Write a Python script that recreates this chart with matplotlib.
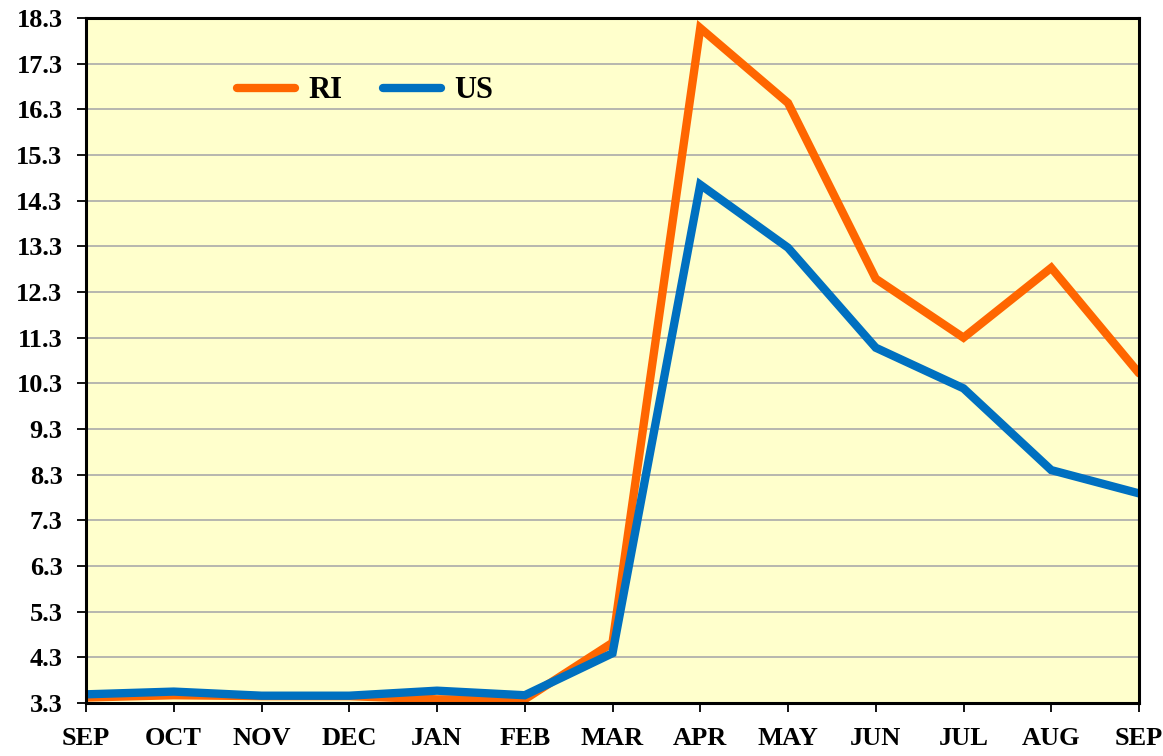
import matplotlib
matplotlib.use('Agg')
import matplotlib.pyplot as plt

# данные
months = ['SEP', 'OCT', 'NOV', 'DEC', 'JAN', 'FEB', 'MAR',
          'APR', 'MAY', 'JUN', 'JUL', 'AUG', 'SEP']
ri = [3.42, 3.47, 3.45, 3.45, 3.38, 3.38, 4.62, 18.08, 16.44, 12.59, 11.3, 12.83, 10.52]
us = [3.49, 3.55, 3.46, 3.46, 3.57, 3.47, 4.39, 14.65, 13.27, 11.08, 10.19, 8.4, 7.89]
y_ticks = [3.3 + i for i in range(16)]


def plot_graph():
    plt.rcParams['font.family'] = ['Liberation Serif', 'DejaVu Serif']
    plt.rcParams['font.weight'] = 'bold'

    fig = plt.figure(figsize=(11.63, 7.56), dpi=100)
    ax = fig.add_axes([86 / 1163, 53 / 756, 1053 / 1163, 685 / 756])
    ax.set_facecolor('#FFFFCC')

    x = list(range(len(months)))
    ax.plot(x, ri, color='#FF6600', linewidth=6, label='RI',
            solid_joinstyle='miter', solid_capstyle='round', zorder=3)
    ax.plot(x, us, color='#0070C0', linewidth=6, label='US',
            solid_joinstyle='miter', solid_capstyle='round', zorder=4)

    ax.set_xlim(0, len(months) - 1)
    ax.set_ylim(3.3, 18.3)
    ax.set_xticks(x)
    ax.set_xticklabels(months)
    ax.set_yticks(y_ticks)
    ax.set_yticklabels([f'{v:.1f}' for v in y_ticks])

    ax.yaxis.grid(True, color='#AAAAAA', linewidth=1.2)
    ax.set_axisbelow(True)
    for s in ax.spines.values():
        s.set_linewidth(2.2)
        s.set_color('black')
        s.set_zorder(5)

    ax.tick_params(axis='both', direction='out', length=6.5, width=1.3,
                   labelsize=19, pad=10.5)

    ax.legend(loc='center left', bbox_to_anchor=((237 - 86) / 1053, (703 - 91) / 685),
              ncol=2, frameon=False, fontsize=22, borderpad=0, borderaxespad=0,
              handlelength=1.9, handletextpad=0.45, columnspacing=1.3)

    fig.savefig('out.png', dpi=100)


if __name__ == '__main__':
    plot_graph()
